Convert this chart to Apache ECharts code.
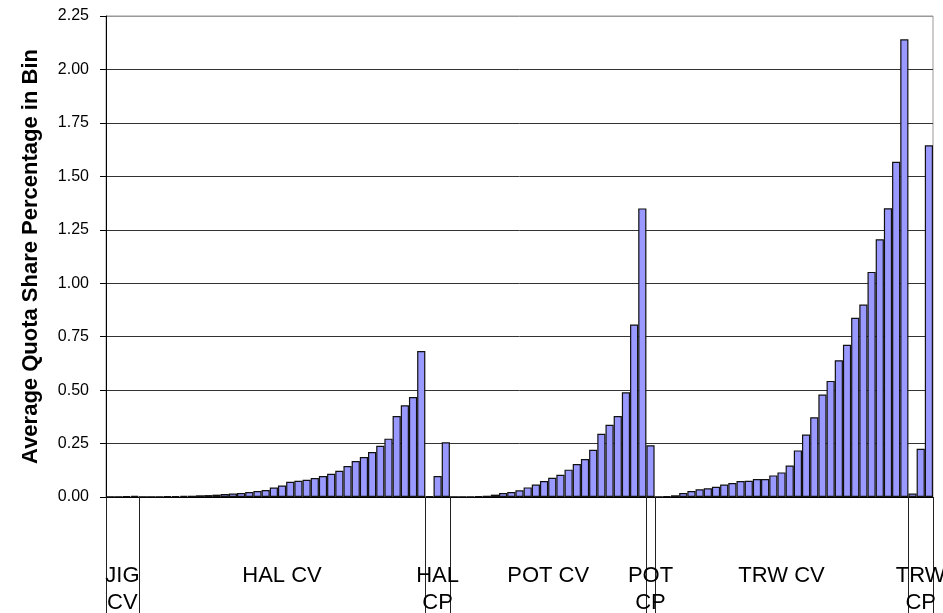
<!DOCTYPE html>
<html>
<head>
<meta charset="utf-8">
<script src="https://cdn.jsdelivr.net/npm/echarts@6/dist/echarts.min.js"></script>
<style>
html,body{margin:0;padding:0;background:#fff;}
#chart{width:943px;height:613px;}
</style>
</head>
<body>
<div id="chart"></div>
<script>
// ---- data ----
const groupNames = ['JIG CV', 'HAL CV', 'HAL CP', 'POT CV', 'POT CP', 'TRW CV', 'TRW CP'];
const groupLabels = ['JIG\nCV', 'HAL CV', 'HAL\nCP', 'POT CV', 'POT\nCP', 'TRW CV', 'TRW\nCP'];
const jigCV = [0.001, 0.001, 0.003, 0.005];
const halCV = [0.0005, 0.001, 0.002, 0.003, 0.004, 0.005, 0.006, 0.008, 0.009, 0.011,
               0.014, 0.016, 0.019, 0.023, 0.028, 0.033, 0.044, 0.054, 0.071, 0.076,
               0.081, 0.089, 0.098, 0.109, 0.123, 0.145, 0.168, 0.187, 0.21, 0.24,
               0.273, 0.379, 0.429, 0.468, 0.683];
const halCP = [0.003, 0.098, 0.256];
const potCV = [0.0005, 0.001, 0.002, 0.003, 0.006, 0.011, 0.019, 0.023, 0.031, 0.045,
               0.058, 0.075, 0.090, 0.104, 0.128, 0.154, 0.178, 0.221, 0.296, 0.338,
               0.379, 0.49, 0.807, 1.35];
const potCP = [0.242];
const trwCV = [0.0005, 0.003, 0.008, 0.019, 0.028, 0.036, 0.041, 0.048, 0.058, 0.065,
               0.075, 0.076, 0.084, 0.084, 0.101, 0.115, 0.147, 0.218, 0.292, 0.373,
               0.479, 0.543, 0.640, 0.712, 0.838, 0.900, 1.053, 1.206, 1.351, 1.568,
               2.141];
const trwCP = [0.016, 0.226, 1.645];
const yTicks = ['0.00', '0.25', '0.50', '0.75', '1.00', '1.25', '1.50', '1.75', '2.00', '2.25'];

const groupData = [jigCV, halCV, halCP, potCV, potCP, trwCV, trwCP];
const categories = [];
const values = [];
groupData.forEach((arr, g) => {
  arr.forEach((v, i) => { categories.push(groupNames[g] + ' ' + (i + 1)); values.push(v); });
});

const FONT = 'Arial, "Liberation Sans", sans-serif';
const chart = echarts.init(document.getElementById('chart'), null, {renderer: 'canvas'});
const gridColors = yTicks.map((t, i) => i === yTicks.length - 1 ? '#999' : '#333');

chart.setOption({
  animation: false,
  backgroundColor: '#fff',
  grid: {left: 106, right: 10, top: 16, bottom: 116, show: true, borderColor: '#999', borderWidth: 1, containLabel: false},
  xAxis: {
    type: 'category',
    data: categories,
    boundaryGap: true,
    axisLine: {show: true, lineStyle: {color: '#000', width: 1}},
    axisTick: {show: false},
    axisLabel: {show: false},
    splitLine: {show: false}
  },
  yAxis: {
    type: 'value',
    min: 0, max: 2.25, interval: 0.25,
    name: 'Average Quota Share Percentage in Bin',
    nameLocation: 'middle',
    nameRotate: 90,
    nameGap: 64,
    nameTextStyle: {fontFamily: FONT, fontSize: 22, fontWeight: 'bold', color: '#000'},
    axisLine: {show: true, lineStyle: {color: '#000', width: 1}},
    axisTick: {show: true, inside: false, length: 6, lineStyle: {color: '#000'}},
    axisLabel: {
      margin: 17, fontFamily: FONT, fontSize: 16, color: '#000',
      formatter: v => yTicks[Math.round(v / 0.25)]
    },
    splitLine: {show: true, lineStyle: {color: gridColors, width: 1}}
  },
  series: [{
    type: 'bar',
    data: values,
    barCategoryGap: '0%',
    itemStyle: {color: '#9999FF', borderColor: '#111', borderWidth: 1.2},
    emphasis: {disabled: true}
  }]
});

// ---- group separators and labels below the axis, positioned through the axis scales ----
const c0 = chart.convertToPixel({xAxisIndex: 0}, 0);
const c1 = chart.convertToPixel({xAxisIndex: 0}, 1);
const bw = c1 - c0;
const yBase = chart.convertToPixel({yAxisIndex: 0}, 0);
const H = chart.getHeight();
const boundary = idx => c0 - bw / 2 + idx * bw;

const elements = [];
let start = 0;
groupData.forEach((arr, g) => {
  const end = start + arr.length;
  const xs = boundary(start), xe = boundary(end);
  [xs, xe].forEach(x => {
    const px = Math.round(x) + 0.5;
    elements.push({type: 'line', silent: true, z: 10,
      shape: {x1: px, y1: yBase, x2: px, y2: H},
      style: {stroke: '#222', lineWidth: 1}});
  });
  elements.push({type: 'text', silent: true, z: 11,
    x: (xs + xe) / 2, y: yBase + 65,
    style: {text: groupLabels[g], fill: '#000', font: '22px ' + FONT,
      align: 'center', verticalAlign: 'top', lineHeight: 27}});
  start = end;
});
chart.setOption({graphic: {elements: elements}});
</script>
</body>
</html>
